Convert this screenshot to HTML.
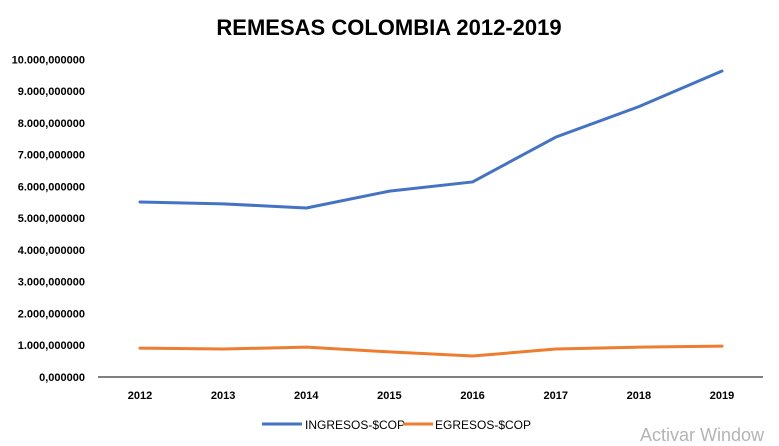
<!DOCTYPE html>
<html><head><meta charset="utf-8"><style>
body{margin:0;background:#fff;}
svg{display:block;font-family:"Liberation Sans",Calibri,sans-serif;}
</style></head><body>
<svg id="chart" width="779" height="446">
<text x="389" y="35" text-anchor="middle" font-size="22" font-weight="bold" fill="#000">REMESAS COLOMBIA 2012-2019</text>
<g id="yaxis"></g>
<g id="xaxis"></g>
<g id="series"></g>
<g>
<line x1="262" y1="424" x2="302" y2="424" stroke="#4472C4" stroke-width="3"/>
<text x="305" y="429" font-size="12" fill="#000">INGRESOS-$COP</text>
<line x1="403" y1="424" x2="433" y2="424" stroke="#ED7D31" stroke-width="3"/>
<text x="435" y="429" font-size="12" fill="#000">EGRESOS-$COP</text>
</g>
<text x="640" y="441" font-size="18" fill="#b4b4b4">Activar Window</text>
</svg>
<script>
const years=["2012","2013","2014","2015","2016","2017","2018","2019"];
const ingresos=[5510,5450,5320,5850,6140,7550,8510,9630];
const egresos=[910,880,940,790,660,880,940,970];
const yTicks=[0,1000,2000,3000,4000,5000,6000,7000,8000,9000,10000];
const yTickLabels=["0,000000","1.000,000000","2.000,000000","3.000,000000","4.000,000000","5.000,000000","6.000,000000","7.000,000000","8.000,000000","9.000,000000","10.000,000000"];
const NS="http://www.w3.org/2000/svg";
const y0=377,yTop=59.3,vMax=10000;
function yS(v){return y0-(v/vMax)*(y0-yTop);}
function xS(i){return 140+i*(722-140)/(years.length-1);}
function mk(t,a,p){const e=document.createElementNS(NS,t);for(const k in a)e.setAttribute(k,a[k]);p.appendChild(e);return e;}
const ya=document.getElementById('yaxis'),xa=document.getElementById('xaxis'),sg=document.getElementById('series');
yTicks.forEach((v,i)=>{const t=mk('text',{x:85,y:yS(v)+4,'text-anchor':'end','font-size':11,'font-weight':'bold',fill:'#000'},ya);t.textContent=yTickLabels[i];

});
const ax=mk('line',{x1:98,y1:y0,x2:763,y2:y0,stroke:'#000','stroke-width':1},xa);


years.forEach((y,i)=>{const t=mk('text',{x:xS(i),y:399,'text-anchor':'middle','font-size':11,'font-weight':'bold',fill:'#000'},xa);t.textContent=y;

});
function line(d,c,n){const p=mk('polyline',{points:d.map((v,i)=>xS(i)+','+yS(v)).join(' '),fill:'none',stroke:c,'stroke-width':3,'stroke-linejoin':'round','stroke-linecap':'round'},sg);

}
line(ingresos,'#4472C4','ingresos-line');
line(egresos,'#ED7D31','egresos-line');
</script>
</body></html>
